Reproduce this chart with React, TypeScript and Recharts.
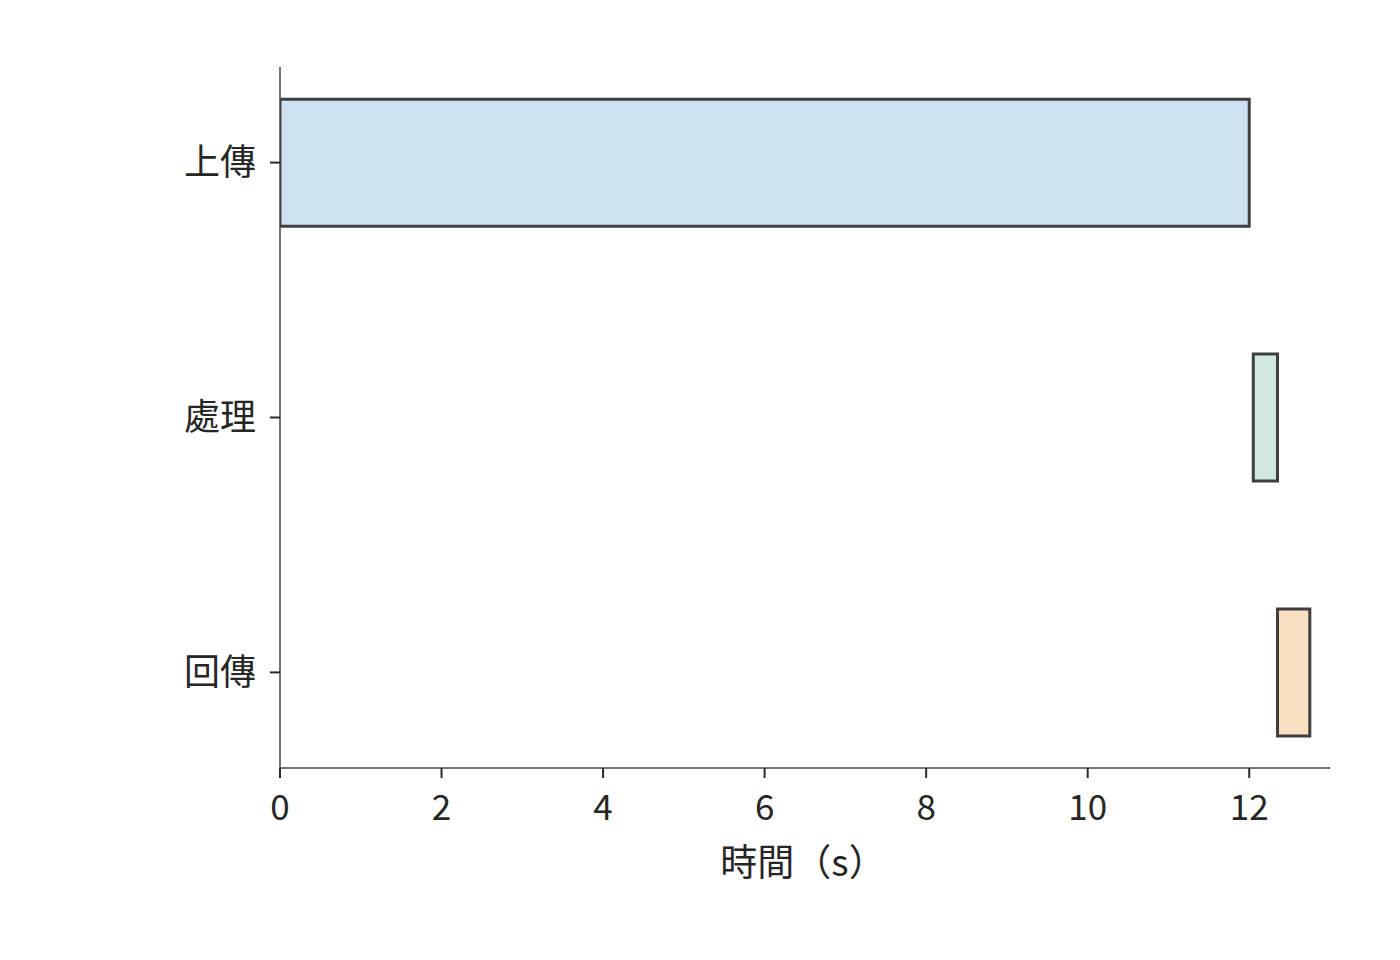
import { BarChart, Bar, XAxis, YAxis, Cell } from 'recharts';

// 階段（由上而下）
const stages = ['上傳', '處理', '回傳'];
// 每個階段的開始與結束時間（秒）
const startTimes = [0, 12.05, 12.35];
const endTimes = [12.0, 12.35, 12.75];
const fills = ['#cde3f2', '#d1e8dc', '#f8dfc2'];
const xTicks = [0, 2, 4, 6, 8, 10, 12];

const data = stages.map((name, i) => ({
  name,
  pos: i,
  range: [startTimes[i], endTimes[i]],
}));

const FONT = '"Noto Sans CJK TC", "Noto Sans", sans-serif';
const AXIS = '#444444';
const TEXT = '#262626';

const App = () => {
  return (
    <div style={{ position: 'absolute', left: 0, top: 0, width: 1400, height: 960, background: '#fff' }}>
      <BarChart
        width={1400}
        height={960}
        data={data}
        layout="vertical"
        margin={{ top: 67, right: 70, left: 0, bottom: 0 }}
      >
        <XAxis
          type="number"
          domain={[0, 13]}
          ticks={xTicks}
          allowDataOverflow
          height={192}
          stroke={AXIS}
          strokeWidth={1.5}
          tickSize={10}
          tickMargin={17}
          tickLine={{ stroke: '#2a2a2a', strokeWidth: 2 }}
          tick={{ fill: TEXT, fontSize: 35, fontFamily: FONT }}
          label={{
            value: '時間（s）',
            position: 'insideTop',
            offset: 82,
            dx: -2,
            fill: TEXT,
            fontSize: 37,
            fontFamily: FONT,
          }}
        />
        <YAxis
          type="number"
          dataKey="pos"
          domain={[-0.375, 2.375]}
          ticks={[0, 1, 2]}
          interval={0}
          allowDataOverflow
          width={280}
          stroke={AXIS}
          strokeWidth={1.5}
          tickSize={10}
          tickMargin={14}
          tickLine={{ stroke: '#2a2a2a', strokeWidth: 2 }}
          tickFormatter={(v: number) => stages[v] ?? ''}
          tick={{ fill: TEXT, fontSize: 36, fontFamily: FONT }}
        />
        <Bar dataKey="range" barSize={127} stroke="#3f3f3f" strokeWidth={3} isAnimationActive={false}>
          {data.map((d, i) => (
            <Cell key={d.name} fill={fills[i]} />
          ))}
        </Bar>
      </BarChart>
    </div>
  );
};

export default App;
